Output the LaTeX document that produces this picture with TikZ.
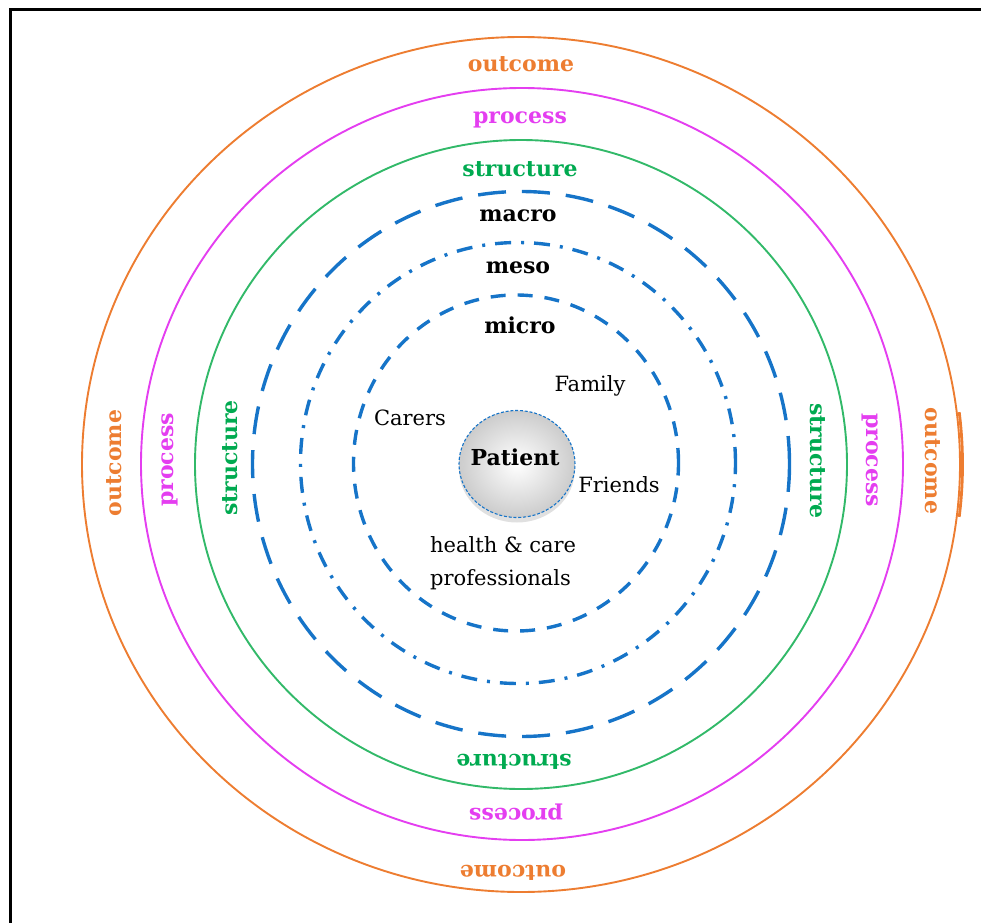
\documentclass[tikz,border=0pt]{standalone}
\usepackage{fontspec}
\setmainfont{DejaVu Serif}
\usetikzlibrary{shapes.geometric,shadows,calc}

\definecolor{outcomeC}{RGB}{237,125,49}
\definecolor{processC}{RGB}{228,62,240}
\definecolor{structC}{RGB}{0,170,80}
\definecolor{structLine}{RGB}{50,185,105}
\definecolor{levelC}{RGB}{22,116,200}

\tikzset{
  ring/.style={line width=1.9pt},
  levelring/.style={draw=levelC, line width=3.4pt},
  ringlabel/.style={font=\fontsize{22}{26}\selectfont\bfseries, inner sep=0pt, anchor=base},
  actor/.style={font=\fontsize{21}{25}\selectfont, inner sep=0pt, anchor=base},
}

\begin{document}
\begin{tikzpicture}[x=1pt,y=-1pt]
\useasboundingbox (0,0) rectangle (983,923);

% frame (left and top edges)
\coordinate (fbl) at (10,923);
\coordinate (ftl) at (10,10);
\coordinate (ftr) at (981,10);
\draw[line width=3pt] (fbl) -- (ftl) -- (ftr);

% centres of the rings
\coordinate (cOut) at (521,464.5);
\coordinate (cPro) at (522,464);
\coordinate (cStr) at (521,464.5);
\coordinate (cMac) at (521,464);
\coordinate (cMes) at (518,463);
\coordinate (cMic) at (516,463);

% outer solid rings
\draw[ring, outcomeC] (cOut) ellipse [x radius=439pt, y radius=427.5pt];
\draw[outcomeC, line width=2.8pt] ($(cOut)+(-7:441.5pt and 429.5pt)$) arc[start angle=-7, end angle=7, x radius=441.5pt, y radius=429.5pt];
\draw[ring, processC] (cPro) ellipse [x radius=381pt, y radius=376pt];
\draw[ring, structLine] (cStr) ellipse [x radius=326pt, y radius=324.5pt];

% dashed level rings
\draw[levelring, dash pattern=on 28pt off 16pt] (cMac) ellipse [x radius=268.5pt, y radius=272.5pt];
\draw[levelring, dash pattern=on 16pt off 10pt on 3pt off 10pt] (cMes) ellipse [x radius=217.5pt, y radius=220.5pt];
\draw[levelring, dash pattern=on 15pt off 12pt] (cMic) ellipse [x radius=162.5pt, y radius=168pt];

% top labels
\node[ringlabel, text=outcomeC] (outT) at (521,72) {outcome};
\node[ringlabel, text=processC] (proT) at (520,124) {process};
\node[ringlabel, text=structC] (strT) at (520,177) {structure};
\node[ringlabel] (macT) at (518,222) {macro};
\node[ringlabel] (mesT) at (518,273) {meso};
\node[ringlabel] (micT) at (520,333) {micro};

% left labels
\node[ringlabel, text=outcomeC, rotate=90] (outL) at (121,463) {outcome};
\node[ringlabel, text=processC, rotate=90] (proL) at (173,460) {process};
\node[ringlabel, text=structC, rotate=90] (strL) at (237,458) {structure};

% right labels
\node[ringlabel, text=structC, rotate=-90] (strR) at (810,461) {structure};
\node[ringlabel, text=processC, rotate=-90] (proR) at (866,460) {process};
\node[ringlabel, text=outcomeC, rotate=-90] (outR) at (925,461) {outcome};

% bottom labels
\node[ringlabel, text=structC, rotate=180] (strB) at (514,754) {structure};
\node[ringlabel, text=processC, rotate=180] (proB) at (516,808) {process};
\node[ringlabel, text=outcomeC, rotate=180] (outB) at (513,865) {outcome};

% patient at the centre
\node[ellipse, minimum width=116pt, minimum height=107pt, inner sep=0pt,
      draw=levelC, line width=1.1pt, dash pattern=on 3pt off 1.8pt,
      inner color=white, outer color=black!20,
      drop shadow={shadow xshift=0pt, shadow yshift=-5pt, opacity=0.2, fill=black!60}]
      (patient) at (517,464) {};
\node[ringlabel] (patientT) at (515,465) {Patient};

% people around the patient
\node[actor] (family) at (590,391) {Family};
\node[actor] (carers) at (410,425) {Carers};
\node[actor] (friends) at (619,492) {Friends};
\node[actor, anchor=base west] (hcp1) at (430,552) {health \& care};
\node[actor, anchor=base west] (hcp2) at (430,585) {professionals};
\end{tikzpicture}
\end{document}
